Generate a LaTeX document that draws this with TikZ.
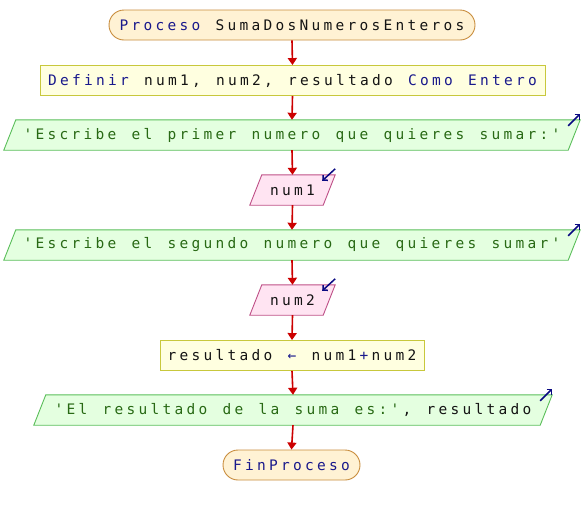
\documentclass[tikz,border=0pt]{standalone}
\usepackage{fontspec}
\setmonofont{DejaVu Sans Mono}
\usetikzlibrary{arrows.meta,backgrounds}
\definecolor{kw}{RGB}{25,25,140}
\definecolor{str}{RGB}{40,105,20}
\definecolor{txt}{RGB}{20,20,20}
\definecolor{termf}{RGB}{255,242,212}
\definecolor{termb}{RGB}{200,140,60}
\definecolor{procf}{RGB}{255,255,224}
\definecolor{procb}{RGB}{200,200,60}
\definecolor{outf}{RGB}{228,255,224}
\definecolor{outb}{RGB}{90,190,90}
\definecolor{inf}{RGB}{255,228,242}
\definecolor{inb}{RGB}{190,80,135}
\definecolor{flowc}{RGB}{204,0,0}
\definecolor{iconc}{RGB}{10,10,130}
\ExplSyntaxOn
\NewDocumentCommand\mono{m}{\str_map_inline:nn {#1} {\makebox[12pt]{##1}}}
\ExplSyntaxOff
\newcommand{\kwd}[1]{\textcolor{kw}{\mono{#1}}}
\newcommand{\strg}[1]{\textcolor{str}{\mono{#1}}}
\begin{document}
\begin{tikzpicture}[x=1pt,y=-1pt,
  font=\ttfamily\fontsize{14.5pt}{16pt}\selectfont, text=txt,
  term/.style={draw=termb, fill=termf, rounded corners=15pt, minimum height=30pt, inner sep=0pt, line width=0.9pt},
  procbox/.style={draw=procb, fill=procf, minimum height=30pt, inner sep=0pt, line width=0.9pt},
  parabox/.style={draw=none, minimum height=30pt, inner sep=0pt},
  outshape/.style={draw=outb, fill=outf, line width=0.9pt},
  inshape/.style={draw=inb, fill=inf, line width=0.9pt},
  flow/.style={draw=flowc, line width=1.6pt, -{Triangle[length=7pt,width=9pt]}},
  icon/.style={draw=iconc, line width=1.5pt, -{Straight Barb[length=3.5pt,width=7pt]}}
]
\useasboundingbox (0,0) rectangle (584,515);

\node[term, minimum width=366pt] (p) at (292,25) {\kwd{Proceso}\mono{ SumaDosNumerosEnteros}};
\node[procbox, minimum width=505pt] (d) at (292.5,80.5) {\kwd{Definir}\mono{ num1, num2, resultado }\kwd{Como Entero}};
\node[parabox, minimum width=564pt] (o1) at (292,135) {\strg{'Escribe el primer numero que quieres sumar:'}};
\node[parabox, minimum width=73pt] (i1) at (292.5,190) {\mono{num1}};
\node[parabox, minimum width=564pt] (o2) at (292,245) {\strg{'Escribe el segundo numero que quieres sumar'}};
\node[parabox, minimum width=73pt] (i2) at (292.5,300) {\mono{num2}};
\node[procbox, minimum width=264pt] (r) at (292,355.5) {\mono{resultado }\kwd{←}\mono{ num1}\kwd{+}\mono{num2}};
\node[parabox, minimum width=506pt] (o3) at (293,410) {\strg{'El resultado de la suma es:'}\mono{, resultado}};
\node[term, minimum width=137pt] (f) at (291.5,465) {\kwd{FinProceso}};

\begin{scope}[on background layer]
\foreach \n/\s in {o1/outshape,o2/outshape,o3/outshape,i1/inshape,i2/inshape}
  \draw[\s] ([xshift=-6pt]\n.south west) -- ([xshift=6pt]\n.north west) -- ([xshift=6pt]\n.north east) -- ([xshift=-6pt]\n.south east) -- cycle;
\end{scope}

\foreach \n in {o1,o2,o3}
  \draw[icon] ([xshift=-6pt,yshift=-6pt]\n.north east) -- ([xshift=6pt,yshift=6pt]\n.north east);
\foreach \n in {i1,i2}
  \draw[icon] ([xshift=6pt,yshift=6pt]\n.north east) -- ([xshift=-7pt,yshift=-6pt]\n.north east);

\draw[flow] (p.south) -- (d.north);
\draw[flow] (d.south) -- (o1.north);
\draw[flow] (o1.south) -- (i1.north);
\draw[flow] (i1.south) -- (o2.north);
\draw[flow] (o2.south) -- (i2.north);
\draw[flow] (i2.south) -- (r.north);
\draw[flow] (r.south) -- (o3.north);
\draw[flow] (o3.south) -- (f.north);
\end{tikzpicture}
\end{document}
